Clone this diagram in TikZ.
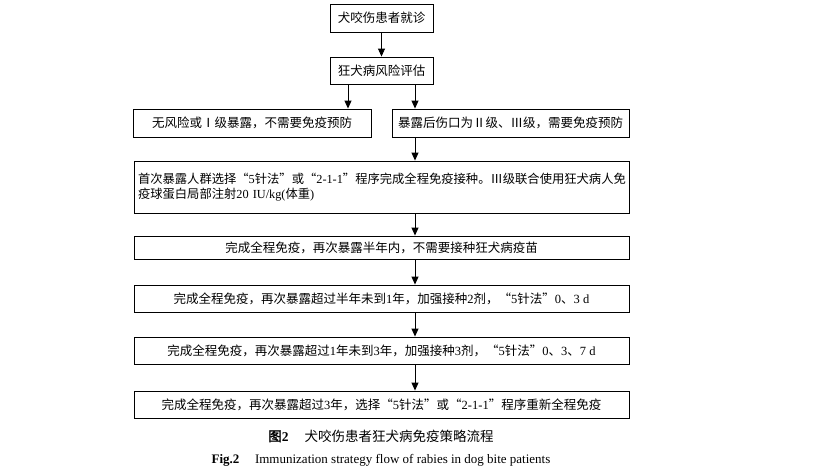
\documentclass[tikz,border=0pt]{standalone}
\usepackage{fontspec}
\setmainfont{Liberation Serif}
\newfontfamily\cjk{Noto Sans CJK SC}[AutoFakeBold=2]
\usetikzlibrary{arrows.meta}
\newcommand\lt[1]{{\rmfamily #1}}
\tikzset{
  box/.style={draw=black, line width=0.9pt, inner sep=0pt, minimum height=27pt,
    font=\cjk\fontsize{12.5}{16}\selectfont, align=center},
  arr/.style={line width=0.9pt, -{Triangle[length=8pt,width=7pt]}},
}
\begin{document}
\begin{tikzpicture}[x=1pt,y=-1pt]
\useasboundingbox (0,0) rectangle (833,474);
\node[box, minimum width=103pt, minimum height=28pt] (b1) at (381.5,18) {犬咬伤患者就诊};
\node[box, minimum width=103pt] (b2) at (381.5,70.5) {狂犬病风险评估};
\node[box, minimum width=238pt, minimum height=28pt] (bl) at (252,123) {无风险或Ⅰ级暴露，不需要免疫预防};
\node[box, minimum width=237pt, minimum height=28pt] (br) at (510.5,123) {暴露后伤口为Ⅱ级、Ⅲ级，需要免疫预防};
\node[box, minimum width=495pt, minimum height=52pt, text width=487pt, align=left,
  font=\cjk\fontsize{12.3}{15.5}\selectfont] (b4) at (381.5,187)
  {首次暴露人群选择“\lt{5}针法”或“\lt{2-1-1}”程序完成全程免疫接种。Ⅲ级联合使用狂犬病人免\\疫球蛋白局部注射\lt{20 IU/kg(}体重\lt{)}};
\node[box, minimum width=495pt, minimum height=23pt] (b5) at (381.5,247.5) {完成全程免疫，再次暴露半年内，不需要接种狂犬病疫苗};
\node[box, minimum width=495pt] (b6) at (381.5,298.5) {完成全程免疫，再次暴露超过半年未到\lt{1}年，加强接种\lt{2}剂，“\lt{5}针法”\lt{0}、\lt{3 d}};
\node[box, minimum width=495pt] (b7) at (381.5,350.5) {完成全程免疫，再次暴露超过\lt{1}年未到\lt{3}年，加强接种\lt{3}剂，“\lt{5}针法”\lt{0}、\lt{3}、\lt{7 d}};
\node[box, minimum width=495pt] (b8) at (381.5,404.5) {完成全程免疫，再次暴露超过\lt{3}年，选择“\lt{5}针法”或“\lt{2-1-1}”程序重新全程免疫};
\draw[arr] (b1.south) -- (b2.north);
\draw[arr] ([xshift=-33.5pt]b2.south) -- ([xshift=-33.5pt]b2.south |- bl.north);
\draw[arr] ([xshift=33.5pt]b2.south) -- ([xshift=33.5pt]b2.south |- br.north);
\draw[arr] ([xshift=33.5pt]b4.north |- br.south) -- ([xshift=33.5pt]b4.north);
\draw[arr] ([xshift=33.5pt]b4.south) -- ([xshift=33.5pt]b5.north);
\draw[arr] ([xshift=33.5pt]b5.south) -- ([xshift=33.5pt]b6.north);
\draw[arr] ([xshift=33.5pt]b6.south) -- ([xshift=33.5pt]b7.north);
\draw[arr] ([xshift=33.5pt]b7.south) -- ([xshift=33.5pt]b8.north);
\node[font=\cjk\fontsize{13.5}{16}\selectfont, inner sep=0pt] (cap1) at (381,436) {\textbf{图\lt{2}}\hspace{1.2em}犬咬伤患者狂犬病免疫策略流程};
\node[font=\fontsize{13}{15}\selectfont, inner sep=0pt] (cap2) at (381,460) {\textbf{Fig.2}\hspace{1.2em}Immunization strategy flow of rabies in dog bite patients};
\end{tikzpicture}
\end{document}
